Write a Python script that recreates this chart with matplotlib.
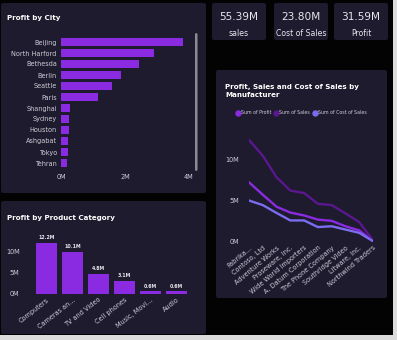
"""
Sales dashboard: profit by city, by product category and by manufacturer.
"""

import matplotlib

matplotlib.use("Agg")
import matplotlib.pyplot as plt
from matplotlib.patches import FancyBboxPatch, Rectangle

W, H = 397, 340

BG = "#030303"
PANEL = "#1d1b2d"
BAR = "#8a2be2"
TXT = "#cfcdd8"

cities = [
    "Beijing", "North Harford", "Bethesda", "Berlin", "Seattle", "Paris",
    "Shanghai", "Sydney", "Houston", "Ashgabat", "Tokyo", "Tehran",
]
city_profit = [3.81, 2.90, 2.44, 1.86, 1.58, 1.15, 0.28, 0.25, 0.24, 0.23, 0.22, 0.19]

categories = [
    "Computers", "Cameras an...", "TV and Video", "Cell phones",
    "Music, Movi...", "Audio",
]
category_profit = [12.2, 10.1, 4.8, 3.1, 0.6, 0.6]

manufacturers = [
    "Fabrika...", "Contoso, Ltd", "Adventure Works", "Proseware, Inc.",
    "Wide World Importers", "A. Datum Corporation", "The Phone Company",
    "Southridge Video", "Litware, Inc.", "Northwind Traders",
]
manu_profit = [7.2, 5.7, 4.25, 3.55, 3.2, 2.7, 2.55, 1.9, 1.4, 0.1]
manu_sales = [12.3, 10.4, 7.8, 6.2, 5.9, 4.6, 4.45, 3.45, 2.4, 0.2]
manu_cost = [5.0, 4.45, 3.5, 2.6, 2.6, 1.8, 1.9, 1.5, 1.1, 0.1]

kpi_values = ["55.39M", "23.80M", "31.59M"]
kpi_labels = ["sales", "Cost of Sales", "Profit"]


def fx(x):
    return x / W


def fy(y):
    return 1 - y / H


def add_axes(fig, left, top, right, bottom):
    ax = fig.add_axes([fx(left), fy(bottom), (right - left) / W, (bottom - top) / H])
    ax.set_zorder(2)
    return ax


def panel(fig, left, top, right, bottom, color=PANEL):
    fig.patches.append(
        FancyBboxPatch(
            (fx(left), fy(bottom)), (right - left) / W, (bottom - top) / H,
            boxstyle="round,pad=0,rounding_size=0.006",
            transform=fig.transFigure, facecolor=color, edgecolor="none",
            zorder=-1,
        )
    )


def style(ax):
    ax.set_facecolor("none")
    for s in ax.spines.values():
        s.set_visible(False)
    ax.tick_params(length=0, colors=TXT, labelsize=4.7)


def mfmt(v, _pos=None):
    return f"{v:.0f}M"


def main() -> None:
    fig = plt.figure(figsize=(W / 100, H / 100), dpi=100)
    fig.patch.set_facecolor(BG)

    # window edges
    fig.patches.append(Rectangle((fx(393), 0), 1, 1, transform=fig.transFigure,
                                 facecolor="#dcdcdc", edgecolor="none", zorder=-1))
    fig.patches.append(Rectangle((0, 0), 1, (H - 335) / H, transform=fig.transFigure,
                                 facecolor="#dcdcdc", edgecolor="none", zorder=-1))

    panel(fig, 1, 3, 206, 193)
    panel(fig, 1, 201, 206, 334)
    panel(fig, 216, 70, 387, 298)
    for left, right in [(212, 266), (274, 328), (334, 388)]:
        panel(fig, left, 3, right, 40)

    # KPI cards
    for (left, right), val, lab in zip([(212, 266), (274, 328), (334, 388)],
                                       kpi_values, kpi_labels):
        cx = fx((left + right) / 2)
        fig.text(cx, fy(17), val, color="#e6e6ee", fontsize=7.6,
                 ha="center", va="center")
        fig.text(cx, fy(33), lab, color="#e6e6ee", fontsize=5.6,
                 ha="center", va="center")

    # Profit by City
    fig.text(fx(7), fy(18), "Profit by City", color="white", fontsize=5.1,
             fontweight="bold", ha="left", va="center")
    ax = add_axes(fig, 61, 36.5, 189, 168.5)
    style(ax)
    ax.barh(range(len(cities)), city_profit, height=0.76, color=BAR)
    ax.set_ylim(len(cities) - 0.5, -0.5)
    ax.set_xlim(0, 4)
    ax.set_yticks(range(len(cities)))
    ax.set_yticklabels(cities)
    ax.set_xticks([0, 2, 4])
    ax.xaxis.set_major_formatter(mfmt)
    ax.tick_params(axis="y", pad=3)
    ax.tick_params(axis="x", pad=4)
    fig.patches.append(
        FancyBboxPatch((fx(195), fy(171)), 2.5 / W, 138 / H,
                       boxstyle="round,pad=0,rounding_size=0.004",
                       transform=fig.transFigure, facecolor="#8a8a92",
                       edgecolor="none", zorder=3)
    )

    # Profit by Product Category
    fig.text(fx(7), fy(218), "Profit by Product Category", color="white",
             fontsize=5.1, fontweight="bold", ha="left", va="center")
    ax = add_axes(fig, 33.5, 232, 189.5, 294)
    style(ax)
    bars = ax.bar(range(len(categories)), category_profit, width=0.79, color=BAR)
    for b, v in zip(bars, category_profit):
        ax.text(b.get_x() + b.get_width() / 2, v + 0.7, f"{v:.1f}M",
                color="#e6e6ee", fontsize=3.4, fontweight="bold",
                ha="center", va="bottom")
    ax.set_xlim(-0.5, len(categories) - 0.5)
    ax.set_ylim(0, 14.76)
    ax.set_yticks([0, 5, 10])
    ax.yaxis.set_major_formatter(mfmt)
    ax.set_xticks(range(len(categories)))
    ax.set_xticklabels(categories, rotation=38, ha="right",
                       rotation_mode="anchor")
    ax.tick_params(axis="y", pad=10)
    ax.tick_params(axis="x", pad=2)

    # Profit, Sales and Cost of Sales by Manufacturer
    fig.text(fx(225), fy(91), "Profit, Sales and Cost of Sales by\nManufacturer",
             color="white", fontsize=5.1, fontweight="bold", ha="left",
             va="center", linespacing=1.3)
    ax = add_axes(fig, 249, 130, 373, 242)
    style(ax)
    xs = range(len(manufacturers))
    ax.plot(xs, manu_profit, color="#8a2be2", lw=1.7, label="Sum of Profit")
    ax.plot(xs, manu_sales, color="#5a178f", lw=1.7, label="Sum of Sales")
    ax.plot(xs, manu_cost, color="#7b6cf0", lw=1.7, label="Sum of Cost of Sales")
    ax.set_xlim(0, len(manufacturers) - 1)
    ax.set_ylim(0, 13.5)
    ax.set_yticks([0, 5, 10])
    ax.yaxis.set_major_formatter(mfmt)
    ax.set_xticks(list(xs))
    ax.set_xticklabels(manufacturers, rotation=40, ha="right",
                       rotation_mode="anchor")
    ax.tick_params(axis="y", pad=7)
    ax.tick_params(axis="x", pad=2)
    leg = ax.legend(loc="center left", bbox_to_anchor=(fx(234), fy(113)),
                    bbox_transform=fig.transFigure, ncol=3, frameon=False,
                    fontsize=3.4, handlelength=0.6, handletextpad=0.3,
                    columnspacing=0.8, borderpad=0)
    for h in leg.legend_handles:
        h.set_linewidth(0)
        h.set_marker("o")
        h.set_markersize(3.6)
    for t in leg.get_texts():
        t.set_color(TXT)

    fig.savefig("out.png", dpi=100, facecolor=BG)


if __name__ == "__main__":
    main()
